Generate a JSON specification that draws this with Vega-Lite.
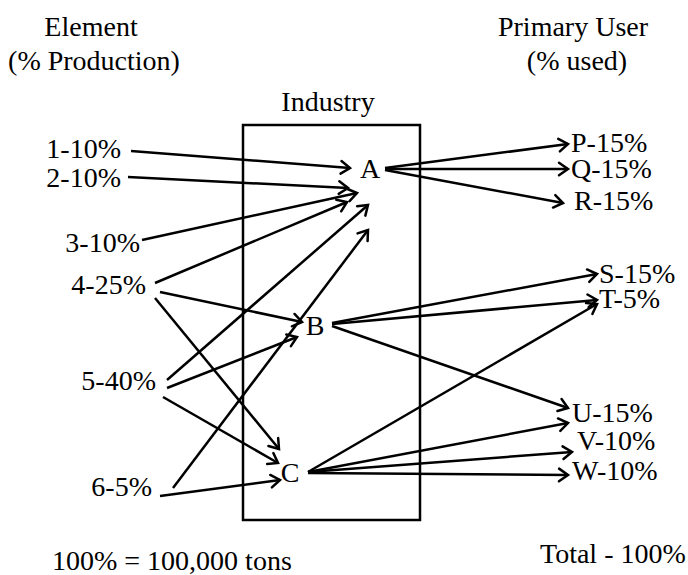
{
  "$schema": "https://vega.github.io/schema/vega-lite/v6.json",
  "width": 688,
  "height": 575,
  "autosize": {"type": "none"},
  "padding": 0,
  "background": "white",
  "config": {
    "view": {"stroke": null}
  },
  "datasets": {
    "texts": [
      {"label": "Element", "x": 91, "y": 36, "anchor": "center"},
      {"label": "(% Production)", "x": 94, "y": 70, "anchor": "center"},
      {"label": "Primary User", "x": 573, "y": 36, "anchor": "center"},
      {"label": "(% used)", "x": 577, "y": 70, "anchor": "center"},
      {"label": "Industry", "x": 328, "y": 111, "anchor": "center"},
      {"label": "A", "x": 370, "y": 178, "anchor": "center"},
      {"label": "B", "x": 315, "y": 335, "anchor": "center"},
      {"label": "C", "x": 290, "y": 482, "anchor": "center"},
      {"label": "1-10%", "x": 121, "y": 158, "anchor": "right"},
      {"label": "2-10%", "x": 121, "y": 187, "anchor": "right"},
      {"label": "3-10%", "x": 140, "y": 252, "anchor": "right"},
      {"label": "4-25%", "x": 146, "y": 294, "anchor": "right"},
      {"label": "5-40%", "x": 156, "y": 390, "anchor": "right"},
      {"label": "6-5%", "x": 152, "y": 496, "anchor": "right"},
      {"label": "P-15%", "x": 571, "y": 152, "anchor": "left"},
      {"label": "Q-15%", "x": 571, "y": 178, "anchor": "left"},
      {"label": "R-15%", "x": 574, "y": 210, "anchor": "left"},
      {"label": "S-15%", "x": 599, "y": 283, "anchor": "left"},
      {"label": "T-5%", "x": 599, "y": 308, "anchor": "left"},
      {"label": "U-15%", "x": 572, "y": 422, "anchor": "left"},
      {"label": "V-10%", "x": 577, "y": 450, "anchor": "left"},
      {"label": "W-10%", "x": 572, "y": 480, "anchor": "left"},
      {"label": "Total - 100%", "x": 540, "y": 563, "anchor": "left"},
      {"label": "100% = 100,000 tons", "x": 52, "y": 570, "anchor": "left"}
    ],
    "arrows": [
      {"from": "1-10%", "to": "A", "x1": 131, "y1": 151, "x2": 350, "y2": 168},
      {"from": "2-10%", "to": "A", "x1": 128, "y1": 177, "x2": 348, "y2": 188},
      {"from": "3-10%", "to": "A", "x1": 142, "y1": 240, "x2": 357, "y2": 193},
      {"from": "4-25%", "to": "A", "x1": 155, "y1": 283, "x2": 347, "y2": 202},
      {"from": "5-40%", "to": "A", "x1": 167, "y1": 380, "x2": 368, "y2": 205},
      {"from": "6-5%", "to": "A", "x1": 173, "y1": 488, "x2": 368, "y2": 230},
      {"from": "4-25%", "to": "B", "x1": 160, "y1": 292, "x2": 302, "y2": 322},
      {"from": "5-40%", "to": "B", "x1": 167, "y1": 388, "x2": 297, "y2": 337},
      {"from": "4-25%", "to": "C", "x1": 155, "y1": 298, "x2": 279, "y2": 449},
      {"from": "5-40%", "to": "C", "x1": 163, "y1": 397, "x2": 278, "y2": 463},
      {"from": "6-5%", "to": "C", "x1": 160, "y1": 496, "x2": 280, "y2": 480},
      {"from": "A", "to": "P", "x1": 385, "y1": 168, "x2": 568, "y2": 144},
      {"from": "A", "to": "Q", "x1": 385, "y1": 169, "x2": 568, "y2": 169},
      {"from": "A", "to": "R", "x1": 385, "y1": 170, "x2": 563, "y2": 203},
      {"from": "B", "to": "S", "x1": 332, "y1": 323, "x2": 597, "y2": 274},
      {"from": "B", "to": "T", "x1": 332, "y1": 324, "x2": 597, "y2": 300},
      {"from": "B", "to": "U", "x1": 332, "y1": 326, "x2": 568, "y2": 408},
      {"from": "C", "to": "T", "x1": 308, "y1": 472, "x2": 597, "y2": 304},
      {"from": "C", "to": "U", "x1": 308, "y1": 472, "x2": 568, "y2": 423},
      {"from": "C", "to": "V", "x1": 308, "y1": 472, "x2": 572, "y2": 452},
      {"from": "C", "to": "W", "x1": 308, "y1": 473, "x2": 568, "y2": 475}
    ],
    "box": [
      {"name": "Industry", "x1": 243, "y1": 125, "x2": 420, "y2": 520}
    ]
  },
  "layer": [
    {
      "data": {"name": "box"},
      "mark": {"type": "rect", "fill": null, "fillOpacity": 0, "stroke": "black", "strokeWidth": 2.5},
      "encoding": {
        "x": {"field": "x1", "type": "quantitative", "scale": {"domain": [0, 688], "nice": false, "zero": false}, "axis": null},
        "x2": {"field": "x2"},
        "y": {"field": "y1", "type": "quantitative", "scale": {"domain": [0, 575], "nice": false, "zero": false, "reverse": true}, "axis": null},
        "y2": {"field": "y2"}
      }
    },
    {
      "data": {"name": "arrows"},
      "mark": {"type": "rule", "stroke": "black", "strokeWidth": 2.5},
      "encoding": {
        "x": {"field": "x1", "type": "quantitative", "scale": {"domain": [0, 688], "nice": false, "zero": false}, "axis": null},
        "x2": {"field": "x2"},
        "y": {"field": "y1", "type": "quantitative", "scale": {"domain": [0, 575], "nice": false, "zero": false, "reverse": true}, "axis": null},
        "y2": {"field": "y2"}
      }
    },
    {
      "data": {"name": "arrows"},
      "transform": [
        {"calculate": "atan2(datum.y2 - datum.y1, datum.x2 - datum.x1) * 180 / PI", "as": "ang"}
      ],
      "mark": {"type": "point", "shape": "M-1,-0.7L0,0L-1,0.7", "filled": false, "stroke": "black", "strokeWidth": 2.5, "size": 324, "opacity": 1, "strokeCap": "round"},
      "encoding": {
        "x": {"field": "x2", "type": "quantitative", "scale": {"domain": [0, 688], "nice": false, "zero": false}, "axis": null},
        "y": {"field": "y2", "type": "quantitative", "scale": {"domain": [0, 575], "nice": false, "zero": false, "reverse": true}, "axis": null},
        "angle": {"field": "ang", "type": "quantitative", "scale": null}
      }
    },
    {
      "data": {"name": "texts"},
      "transform": [{"filter": "datum.anchor == 'center'"}],
      "mark": {"type": "text", "align": "center", "baseline": "alphabetic", "font": "Liberation Serif", "fontSize": 28, "color": "black"},
      "encoding": {
        "x": {"field": "x", "type": "quantitative", "scale": {"domain": [0, 688], "nice": false, "zero": false}, "axis": null},
        "y": {"field": "y", "type": "quantitative", "scale": {"domain": [0, 575], "nice": false, "zero": false, "reverse": true}, "axis": null},
        "text": {"field": "label"}
      }
    },
    {
      "data": {"name": "texts"},
      "transform": [{"filter": "datum.anchor == 'right'"}],
      "mark": {"type": "text", "align": "right", "baseline": "alphabetic", "font": "Liberation Serif", "fontSize": 28, "color": "black"},
      "encoding": {
        "x": {"field": "x", "type": "quantitative", "scale": {"domain": [0, 688], "nice": false, "zero": false}, "axis": null},
        "y": {"field": "y", "type": "quantitative", "scale": {"domain": [0, 575], "nice": false, "zero": false, "reverse": true}, "axis": null},
        "text": {"field": "label"}
      }
    },
    {
      "data": {"name": "texts"},
      "transform": [{"filter": "datum.anchor == 'left'"}],
      "mark": {"type": "text", "align": "left", "baseline": "alphabetic", "font": "Liberation Serif", "fontSize": 28, "color": "black"},
      "encoding": {
        "x": {"field": "x", "type": "quantitative", "scale": {"domain": [0, 688], "nice": false, "zero": false}, "axis": null},
        "y": {"field": "y", "type": "quantitative", "scale": {"domain": [0, 575], "nice": false, "zero": false, "reverse": true}, "axis": null},
        "text": {"field": "label"}
      }
    }
  ]
}
